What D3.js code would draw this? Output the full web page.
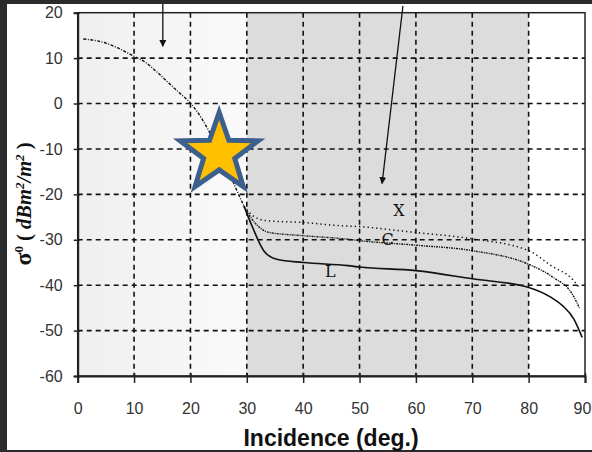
<!DOCTYPE html>
<html><head><meta charset="utf-8">
<script src="https://cdn.jsdelivr.net/npm/d3@7"></script>
<style>html,body{margin:0;padding:0;background:#fff}svg{display:block}</style>
</head><body>
<script>
// ---- data ----
const xTicks = [0,10,20,30,40,50,60,70,80,90];
const yTicks = [20,10,0,-10,-20,-30,-40,-50,-60];
const sharedAngles = [1,3,5,7,10,12,14,16,18,20,22,24,26,27,28,29.5];
const sharedValues = [14.2,13.9,13.3,12.3,10.4,9.1,7.0,4.7,2.4,0.1,-3.3,-7.8,-12.8,-15.6,-18.5,-22.6];
const xAngles = [29.5,31,33.5,40,46.5,50,57,60,70,80,84,88,89];
const xValues = [-22.6,-24.6,-25.8,-26.2,-26.9,-27.1,-28.0,-28.4,-29.8,-32.4,-35.7,-39.0,-40.6];
const cAngles = [29.5,31,34,40,48,50,60,70,80,84,88,89];
const cValues = [-22.6,-25.6,-28.4,-29.1,-29.9,-30.2,-31.2,-32.4,-35.4,-38.0,-42.5,-45.0];
const lAngles = [29.5,31,33,35.3,40,48,50,60,70,80,84,86,88,89.5];
const lValues = [-22.6,-27.2,-32.4,-34.3,-35.0,-35.7,-36.0,-36.8,-38.6,-40.5,-42.7,-44.5,-47.4,-51.5];
const seriesNames = ["X","C","L"];
const labelAngles = [57,55,44.8];
const labelValues = [-24.7,-31.2,-38.2];
const bands = [[0,30],[30,80]];
const arrowStart = [[15.1,23],[57.7,21.5]];
const arrowEnd = [[15.1,12.6],[54,-17.6]];
const starAt = [25.1,-11];

const W=592,H=452;
const svg=d3.select("body").append("svg").attr("width",W).attr("height",H);
svg.append("rect").attr("width",W).attr("height",H).attr("fill","#2b2b2b");
svg.append("rect").attr("x",7).attr("y",4).attr("width",W-7).attr("height",446).attr("fill","#ffffff");

const x=d3.scaleLinear().domain([0,90]).range([77.7,585]);
const y=d3.scaleLinear().domain([-60,20]).range([376,12.7]);

// shading
const defs=svg.append("defs");
const g1=defs.append("linearGradient").attr("id","lg").attr("x1","0").attr("x2","1");
g1.append("stop").attr("offset","0").attr("stop-color","#efefef");
g1.append("stop").attr("offset","1").attr("stop-color","#fafafa");
svg.append("rect").attr("x",x(bands[0][0])).attr("y",y(20)).attr("width",x(bands[0][1])-x(bands[0][0])).attr("height",y(-60)-y(20)).attr("fill","url(#lg)");
svg.append("rect").attr("x",x(bands[1][0])).attr("y",y(20)).attr("width",x(bands[1][1])-x(bands[1][0])).attr("height",y(-60)-y(20)).attr("fill","#dcdcdc");

// grid
svg.append("g").selectAll("line").data(xTicks.filter(d=>d>0&&d<90)).join("line")
  .attr("x1",d=>x(d)).attr("x2",d=>x(d)).attr("y1",y(20)).attr("y2",y(-60))
  .attr("stroke","#111").attr("stroke-width",1.6).attr("stroke-dasharray","5,4");
svg.append("g").selectAll("line").data(yTicks.filter(d=>d>-60&&d<20)).join("line")
  .attr("x1",x(0)).attr("x2",x(90)).attr("y1",d=>y(d)).attr("y2",d=>y(d))
  .attr("stroke","#111").attr("stroke-width",1.6).attr("stroke-dasharray","5,4");

// frame
svg.append("rect").attr("x",x(0)).attr("y",y(20)).attr("width",x(90)-x(0)).attr("height",y(-60)-y(20))
  .attr("fill","none").attr("stroke","#222").attr("stroke-width",1.5);

// axes
const fmt=d=>String(d);
const ax=svg.append("g").attr("transform",`translate(0,${y(-60)})`)
  .call(d3.axisBottom(x).tickValues(xTicks).tickFormat(fmt).tickSize(7).tickPadding(20));
ax.select(".domain").attr("stroke","#222").attr("stroke-width",2);
ax.selectAll(".tick line").attr("stroke","#222").attr("stroke-width",1.5).attr("y1",-3);
ax.selectAll("text").attr("font-family","Liberation Sans, Arial, sans-serif").attr("font-size",16).attr("fill","#333")
  .attr("dx",d=>d===90?-3:0);
const ay=svg.append("g").attr("transform",`translate(${x(0)},0)`)
  .call(d3.axisLeft(y).tickValues(yTicks).tickFormat(fmt).tickSize(4).tickPadding(11));
ay.select(".domain").attr("stroke","#222").attr("stroke-width",2);
ay.selectAll(".tick line").attr("stroke","#222").attr("stroke-width",1.5).attr("x1",2);
ay.selectAll("text").attr("font-family","Liberation Sans, Arial, sans-serif").attr("font-size",16).attr("fill","#333");

// curves
const line=d3.line().x(d=>x(d[0])).y(d=>y(d[1])).curve(d3.curveMonotoneX);
const zip=(a,b)=>a.map((v,i)=>[v,b[i]]);
svg.append("path").attr("d",line(zip(sharedAngles,sharedValues))).attr("fill","none")
  .attr("stroke","#111").attr("stroke-width",1.4).attr("stroke-dasharray","3,1.5,1,1.5");
const series=[
 {pts:zip(xAngles,xValues),dash:"1.3,3",w:1.5},
 {pts:zip(cAngles,cValues),dash:"2,1,1,1",w:1.4},
 {pts:zip(lAngles,lValues),dash:null,w:1.6}
];
series.forEach(s=>{
  const p=svg.append("path").attr("d",line(s.pts)).attr("fill","none").attr("stroke","#111").attr("stroke-width",s.w);
  if(s.dash) p.attr("stroke-dasharray",s.dash);
});
svg.append("g").selectAll("text").data(seriesNames).join("text")
  .attr("x",(d,i)=>x(labelAngles[i])).attr("y",(d,i)=>y(labelValues[i]))
  .attr("text-anchor","middle").attr("font-family","DejaVu Serif, Liberation Serif, serif")
  .attr("font-size",16).attr("fill","#111").text(d=>d);

// arrows
defs.append("marker").attr("id","ah").attr("viewBox","0 0 10 10").attr("refX",9).attr("refY",5)
  .attr("markerWidth",7).attr("markerHeight",9).attr("orient","auto").attr("markerUnits","userSpaceOnUse")
  .append("path").attr("d","M0,0L10,5L0,10z").attr("fill","#111");
arrowStart.forEach((s,i)=>{
  svg.append("line").attr("x1",x(s[0])).attr("y1",y(s[1])).attr("x2",x(arrowEnd[i][0])).attr("y2",y(arrowEnd[i][1]))
   .attr("stroke","#111").attr("stroke-width",1.3).attr("marker-end","url(#ah)");
});
svg.append("rect").attr("width",W).attr("height",4).attr("fill","#2b2b2b");

// star
const R=41, r=R*0.4;
const starPts=d3.range(10).map(i=>{const a=-Math.PI/2+i*Math.PI/5, rr=i%2?r:R; return [Math.cos(a)*rr,Math.sin(a)*rr];});
svg.append("path").attr("d","M"+starPts.map(p=>p.join(",")).join("L")+"Z")
  .attr("transform",`translate(${x(starAt[0])},${y(starAt[1])})`)
  .attr("fill","#FFC000").attr("stroke","#3d5f8c").attr("stroke-width",5).attr("stroke-linejoin","miter");

// axis titles
svg.append("text").attr("x",331).attr("y",446).attr("text-anchor","middle")
  .attr("font-family","Liberation Sans, Arial, sans-serif").attr("font-weight","bold").attr("font-size",23)
  .attr("fill","#111").text("Incidence (deg.)");
const yl=svg.append("text").attr("transform","translate(31,204) rotate(-90)").attr("text-anchor","middle")
  .attr("font-family","Liberation Serif, Times New Roman, serif").attr("font-weight","bold").attr("font-size",20.5).attr("fill","#111");
yl.append("tspan").attr("font-size",24).text("σ");
yl.append("tspan").attr("dy",-8).attr("font-size",13).text("0");
yl.append("tspan").attr("dy",8).text(" ( ");
yl.append("tspan").attr("font-style","italic").text("dBm");
yl.append("tspan").attr("dy",-7).attr("font-size",13).attr("font-style","italic").text("2");
yl.append("tspan").attr("dy",7).attr("font-style","italic").text("/m");
yl.append("tspan").attr("dy",-7).attr("font-size",13).attr("font-style","italic").text("2");
yl.append("tspan").attr("dy",7).text(" )");
</script>
</body></html>
